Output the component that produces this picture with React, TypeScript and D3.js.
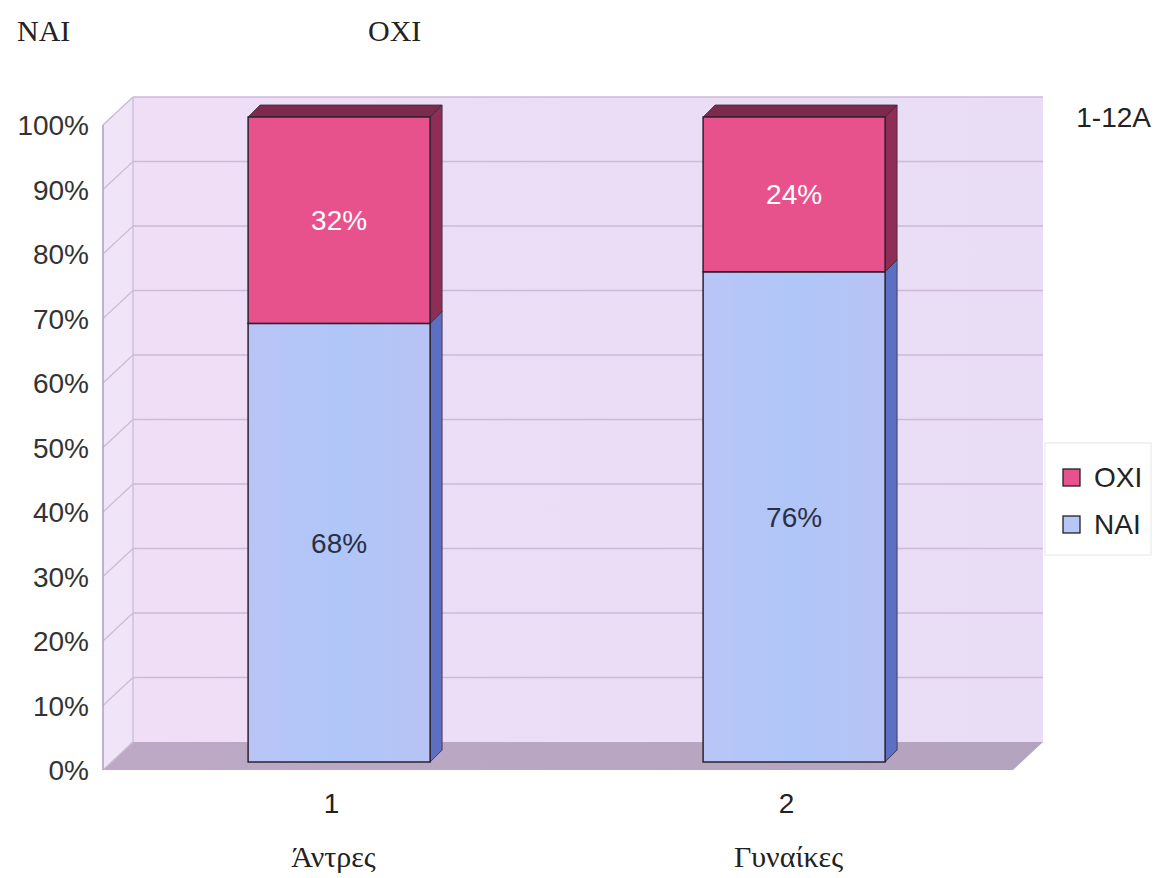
import React from "react";
import * as d3 from "d3";

const categories = ["1", "2"];
const groupNames = ["Άντρες", "Γυναίκες"];
const naiValues = [68, 76];
const oxiValues = [32, 24];
const yTicks = [0, 10, 20, 30, 40, 50, 60, 70, 80, 90, 100];
const seriesNames = ["OXI", "NAI"];

const W = 1158;
const H = 878;
const sans = "'Liberation Sans', Arial, sans-serif";
const serif = "'Liberation Serif', 'Times New Roman', serif";

export default function App() {
  const yFront = d3.scaleLinear().domain([0, 100]).range([770, 125]);
  const x = d3.scaleBand().domain(categories).range([103, 1013]).paddingInner(0).paddingOuter(0);
  const DX = 30, DY = -28;
  const bdx = 8.6, bdy = -8;
  const sdx = 12, sdy = -12;
  const barW = x.bandwidth() * 0.4;

  const colors = {
    oxi: "#E8528C", oxiSide: "#8E2D55", oxiTop: "#7E2A4C",
    nai: "#B5C6F7", naiSide: "#5C6FC2", naiTop: "#8A9BE0",
  };

  const left = 103, right = 1013;
  const y0 = yFront(0), y100 = yFront(100);

  const bars = categories.map((c, i) => {
    const cx = (x(c) as number) + x.bandwidth() / 2;
    const bx = cx - barW / 2 + bdx;
    const segs = [
      { v0: 0, v1: naiValues[i], fill: colors.nai, side: colors.naiSide, top: colors.naiTop, label: naiValues[i] + "%", tc: "#2a2f45" },
      { v0: naiValues[i], v1: naiValues[i] + oxiValues[i], fill: colors.oxi, side: colors.oxiSide, top: colors.oxiTop, label: oxiValues[i] + "%", tc: "#ffffff" },
    ];
    return { cx, bx, segs };
  });

  return (
    <svg width={W} height={H} style={{ display: "block", position: "absolute", left: 0, top: 0, background: "#fff" }}>
      <defs>
        <linearGradient id="wallG" x1="0" x2="1" y1="0" y2="0">
          <stop offset="0" stopColor="#F0DEF6" />
          <stop offset="0.5" stopColor="#EBDDF6" />
          <stop offset="1" stopColor="#E9DDF5" />
        </linearGradient>
        <linearGradient id="floorG" x1="0" x2="1" y1="0" y2="0">
          <stop offset="0" stopColor="#BDA9C6" />
          <stop offset="1" stopColor="#B4A3BE" />
        </linearGradient>
        <linearGradient id="naiG" x1="0" x2="1" y1="0" y2="0">
          <stop offset="0" stopColor="#B9C4F6" />
          <stop offset="0.5" stopColor="#B0C6F8" />
          <stop offset="1" stopColor="#B7C3F4" />
        </linearGradient>
      </defs>
      <text x={17} y={41} fontFamily={serif} fontSize={30} fill="#222">NAI</text>
      <text x={368} y={41} fontFamily={serif} fontSize={30} fill="#222">OXI</text>

      <rect x={left + DX} y={y100 + DY} width={right - left} height={y0 - y100} fill="url(#wallG)" />
      <polygon
        points={`${left},${y100} ${left + DX},${y100 + DY} ${left + DX},${y0 + DY} ${left},${y0}`}
        fill="#F0E4F8"
        stroke="#C9BED6"
        strokeWidth={1}
      />
      <polygon
        points={`${left},${y0} ${left + DX},${y0 + DY} ${right + DX},${y0 + DY} ${right},${y0}`}
        fill="url(#floorG)"
      />
      {yTicks.map((t) => (
        <g key={t}>
          {t > 0 && (
            <line x1={left + DX} x2={right + DX} y1={yFront(t) + DY} y2={yFront(t) + DY} stroke="#CDBAD6" strokeWidth={1.5} />
          )}
          <line x1={left} x2={left + DX} y1={yFront(t)} y2={yFront(t) + DY} stroke="#CDBAD6" strokeWidth={1.2} />
        </g>
      ))}
      <line x1={left + DX} x2={left + DX} y1={y100 + DY} y2={y0 + DY} stroke="#CFC3DA" strokeWidth={1} />
      <line x1={left} x2={left} y1={y100} y2={y0} stroke="#A99CB5" strokeWidth={1.2} />

      {yTicks.map((t) => (
        <text key={t} x={89} y={yFront(t) + 10} textAnchor="end" fontFamily={sans} fontSize={28} fill="#333">
          {t}%
        </text>
      ))}

      {bars.map((b, i) => (
        <g key={i}>
          {b.segs.map((s, j) => {
            const yt = yFront(s.v1) + bdy;
            const yb = yFront(s.v0) + bdy;
            const xr = b.bx + barW;
            return (
              <g key={j}>
                <polygon
                  points={`${xr},${yb} ${xr + sdx},${yb + sdy} ${xr + sdx},${yt + sdy} ${xr},${yt}`}
                  fill={s.side}
                  stroke="#3a2a3a"
                  strokeWidth={0.8}
                />
                {j === b.segs.length - 1 && (
                  <polygon
                    points={`${b.bx},${yt} ${b.bx + sdx},${yt + sdy} ${xr + sdx},${yt + sdy} ${xr},${yt}`}
                    fill={s.top}
                    stroke="#3a2a3a"
                    strokeWidth={0.8}
                  />
                )}
                <rect
                  x={b.bx}
                  y={yt}
                  width={barW}
                  height={yb - yt}
                  fill={j === 0 ? "url(#naiG)" : s.fill}
                  stroke="#2b2230"
                  strokeWidth={1.5}
                />
                <text
                  x={b.bx + barW / 2}
                  y={(yt + yb) / 2 + 10}
                  textAnchor="middle"
                  fontFamily={sans}
                  fontSize={28}
                  fill={s.tc}
                >
                  {s.label}
                </text>
              </g>
            );
          })}
        </g>
      ))}

      {categories.map((c, i) => (
        <g key={c}>
          <text x={(x(c) as number) + x.bandwidth() / 2 + 1} y={813} textAnchor="middle" fontFamily={sans} fontSize={28} fill="#222">
            {c}
          </text>
          <text x={(x(c) as number) + x.bandwidth() / 2 + 3} y={867} textAnchor="middle" fontFamily={serif} fontSize={30} fill="#222">
            {groupNames[i]}
          </text>
        </g>
      ))}

      <text x={1151} y={127} textAnchor="end" fontFamily={sans} fontSize={28} fill="#222">1-12A</text>

      <rect x={1045} y={443} width={106} height={112} fill="#fff" stroke="#e6e6e6" strokeWidth={1} />
      {seriesNames.map((s, i) => (
        <g key={s}>
          <rect
            x={1063}
            y={469 + i * 47}
            width={17}
            height={17}
            fill={i === 0 ? colors.oxi : colors.nai}
            stroke="#222"
            strokeWidth={1.3}
          />
          <text x={1094} y={487 + i * 47} fontFamily={sans} fontSize={28} fill="#222">{s}</text>
        </g>
      ))}
    </svg>
  );
}
